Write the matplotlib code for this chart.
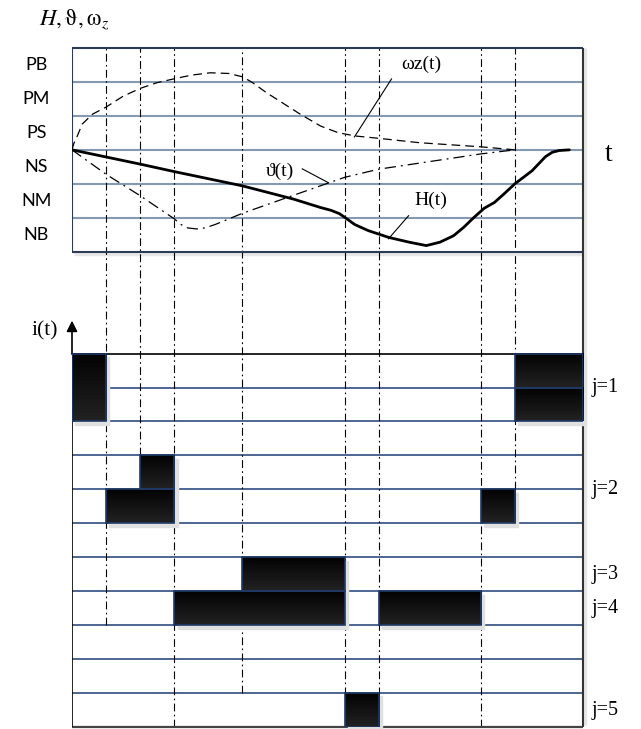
import numpy as np
import matplotlib
matplotlib.use('Agg')
import matplotlib.pyplot as plt
from matplotlib.colors import LinearSegmentedColormap
from matplotlib.patches import Rectangle

plt.rcParams['mathtext.fontset'] = 'stix'
SERIF = ['Liberation Serif', 'DejaVu Serif']

# ---- data -------------------------------------------------------------
levels = ['NB', 'NM', 'NS', 'PS', 'PM', 'PB']

# switching instants (dash-dot verticals) and where each one stops in the lower panel
switch_t = [1, 2, 3, 5, 8, 9, 12, 13]
switch_end = [3, 8, 0, 1, 0, 0, 0, 7]

# H(t)
H_t = [0, 2, 3, 5, 6.5, 7.3, 7.6, 7.85, 8.05, 8.3, 8.7, 9.3, 9.9, 10.4, 10.8,
       11.2, 11.5, 11.8, 12.1, 12.4, 12.7, 13, 13.5, 13.9, 14.1, 14.3, 14.6]
H_v = [3, 2.58, 2.36, 1.94, 1.55, 1.30, 1.22, 1.12, 0.98, 0.8, 0.62, 0.42, 0.28, 0.18, 0.28,
       0.47, 0.72, 1.01, 1.28, 1.45, 1.72, 2.0, 2.38, 2.8, 2.93, 2.98, 3.0]

# theta(t)
th_t = [0, 1, 2, 3, 3.2, 3.4, 3.66, 3.9, 4.2, 5, 7.29, 8, 9, 12, 13]
th_v = [3, 2.28, 1.65, 0.97, 0.8, 0.7, 0.67, 0.7, 0.8, 1.13, 1.94, 2.19, 2.43, 2.88, 3.0]

# omega_z(t)
wz_t = [0, 0.05, 0.14, 0.3, 0.6, 1, 1.5, 2, 2.5, 3.03, 3.5, 4.06, 4.6, 5.01, 5.3, 5.7,
        6.2, 6.7, 7.3, 7.8, 8.3, 9, 10.2, 12, 13]
wz_v = [3, 3.18, 3.37, 3.76, 4.05, 4.26, 4.58, 4.81, 4.98, 5.1, 5.2, 5.27, 5.25, 5.15, 4.98, 4.69,
        4.37, 4.05, 3.7, 3.51, 3.41, 3.34, 3.21, 3.09, 3.0]

# active rule blocks: start, end, top row (1 = upper row), number of rows
bar_t0 = [0, 13, 13, 2, 1, 12, 5, 3, 9, 8]
bar_t1 = [1, 15, 15, 3, 3, 13, 8, 8, 12, 9]
bar_row = [1, 1, 2, 4, 5, 5, 7, 8, 8, 11]
bar_nrows = [2, 1, 1, 1, 1, 1, 1, 1, 1, 1]

j_labels = ['j=1', 'j=2', 'j=3', 'j=4', 'j=5']
j_pos = [10, 7, 4.5, 3.5, 0.5]

N_ROWS = 11      # rows in lower panel
TOP0 = 14        # lower edge of upper panel
T_END = 15

# ---- figure -----------------------------------------------------------
fig = plt.figure(figsize=(6.41, 7.29), dpi=100)
ax = fig.add_axes([72 / 641, 2 / 729, 511 / 641, 679 / 729])
ax.set_xlim(0, T_END)
ax.set_ylim(0, 20)
ax.axis('off')

grid_top = '#8598b4'
grid_bot = '#2f4d80'
frame = '#2a3a58'

# upper panel grid
for k in range(1, len(levels)):
    ax.hlines(TOP0 + k, 0, T_END, color=grid_top, lw=1.5, zorder=1)
ax.hlines(TOP0 - 0.07, 0.05, T_END + 0.05, color='#e6e6e6', lw=2.5, zorder=0)
ax.vlines(T_END + 0.07, 0.05, 20, color='#e6e6e6', lw=2.5, zorder=0, clip_on=False)
ax.hlines([TOP0, 20], 0, T_END, color=frame, lw=1.5, zorder=3, clip_on=False)
ax.vlines(0, TOP0, 20, color=frame, lw=1.5, zorder=3)
ax.vlines(T_END, 0, 20, color='#333333', lw=1.5, zorder=3, clip_on=False)

for k, name in enumerate(levels):
    ax.text(-1.05, TOP0 + k + 0.5, name, ha='center', va='center', fontsize=13,
            family='Lato', clip_on=False)

# lower panel grid
for k in range(1, N_ROWS):
    ax.hlines(k, 0, T_END, color=grid_bot, lw=1.2, zorder=1)
ax.hlines(N_ROWS, 0, T_END, color='black', lw=1.2, zorder=1)
ax.hlines(0, 0, T_END, color='#444444', lw=1.6, zorder=3, clip_on=False)
ax.vlines(0, 0, N_ROWS, color='black', lw=1.2, zorder=3)
ax.annotate('', xy=(0, N_ROWS + 0.97), xytext=(0, N_ROWS - 0.02),
            arrowprops=dict(arrowstyle='-|>', color='black', lw=1.2,
                            mutation_scale=16, shrinkA=0, shrinkB=0))
ax.text(-0.8, N_ROWS + 0.68, 'i(t)', ha='center', va='center', fontsize=15.5,
        family=SERIF, clip_on=False)

# switching instants
for t, yb in zip(switch_t, switch_end):
    ax.plot([t, t], [yb, 20], color='black', lw=0.8,
            linestyle=(0, (7, 3, 1.5, 3)), zorder=2)

# curves
ax.plot(np.array(wz_t), TOP0 + np.array(wz_v), color='black', lw=0.9,
        linestyle=(0, (7, 4)), zorder=4)
ax.plot(np.array(th_t), TOP0 + np.array(th_v), color='black', lw=0.9,
        linestyle=(0, (9, 4, 1.5, 4)), zorder=4)
ax.plot(np.array(H_t), TOP0 + np.array(H_v), color='black', lw=2.0,
        solid_capstyle='round', solid_joinstyle='round', zorder=5)

ax.text(10.24, 19.53, 'ωz(t)', ha='center', va='center', fontsize=14, family=SERIF)
ax.plot([9.38, 8.29], [19.09, 17.38], color='black', lw=0.8)
ax.text(6.09, 16.38, 'ϑ(t)', ha='center', va='center', fontsize=14, family=SERIF)
ax.plot([6.76, 7.53], [16.44, 16.03], color='black', lw=0.8)
ax.text(10.53, 15.5, 'H(t)', ha='center', va='center', fontsize=14, family=SERIF)
ax.plot([9.88, 9.29], [15.06, 14.38], color='black', lw=0.8)

ax.text(15.74, 16.85, 't', ha='center', va='center', fontsize=20, family=SERIF,
        clip_on=False)
ax.text(0.05, 20.85, r'$H,\mathrm{\vartheta},\mathrm{\omega}_z$', ha='center',
        va='center', fontsize=16.5, clip_on=False)

# rule blocks
grad = LinearSegmentedColormap.from_list('blk', ['#030303', '#222222'])
g = np.linspace(0, 1, 64).reshape(-1, 1)
for t0, t1, r, n in zip(bar_t0, bar_t1, bar_row, bar_nrows):
    top = N_ROWS - r + 1
    bot = top - n
    ax.add_patch(Rectangle((t0 + 0.1, bot - 0.1), t1 - t0, n, color='#e0e0e0',
                           zorder=5, clip_on=False))
    ax.imshow(g, cmap=grad, extent=(t0, t1, bot, top), aspect='auto',
              origin='upper', zorder=6)
    ax.add_patch(Rectangle((t0, bot), t1 - t0, n, fill=False, ec='#1f3a66',
                           lw=1.2, zorder=7))

for lab, y in zip(j_labels, j_pos):
    ax.text(15.24, y, lab, ha='left', va='center', fontsize=14.5, family=SERIF,
            clip_on=False)

ax.set_xlim(0, T_END)
ax.set_ylim(0, 20)
fig.savefig('out.png', dpi=100)
